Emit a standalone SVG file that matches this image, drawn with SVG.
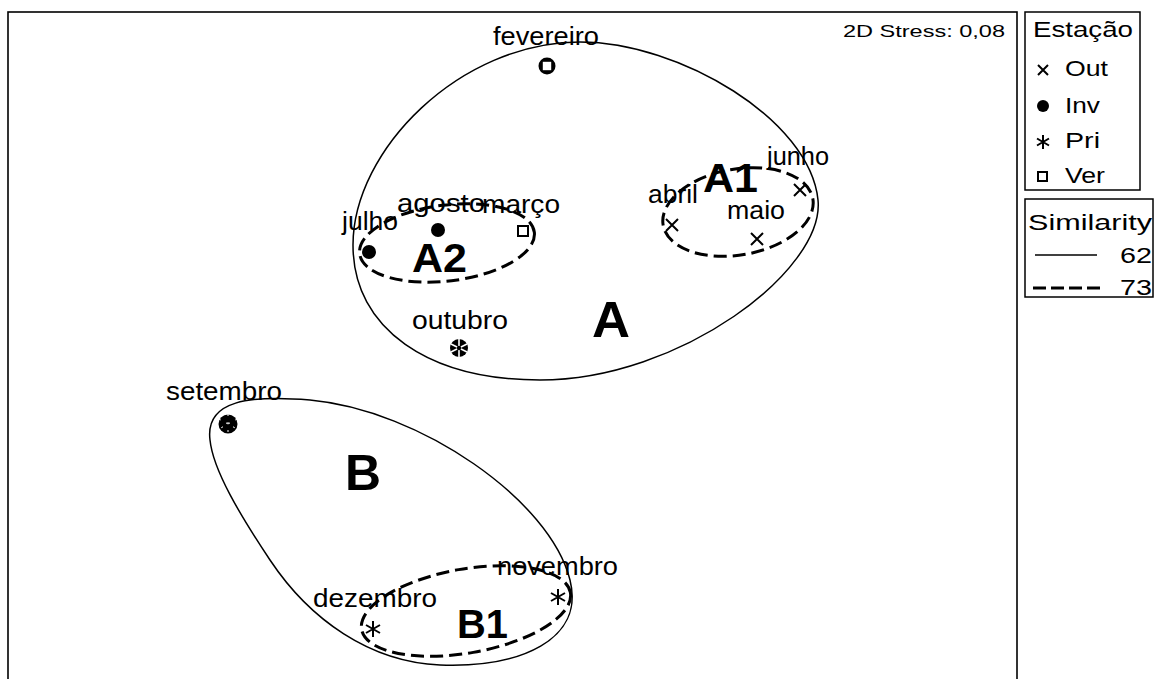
<svg xmlns="http://www.w3.org/2000/svg" width="1156" height="679" viewBox="0 0 1156 679">
<style>
text{font-family:"Liberation Sans",Arial,sans-serif;fill:#000}
.lb{font-size:25px}
.big{font-size:41px;font-weight:bold}
.lg{font-size:22px}
.solid{fill:none;stroke:#000;stroke-width:1.5}
.dash{fill:none;stroke:#000;stroke-width:3;stroke-dasharray:13 6}
.x{stroke:#000;stroke-width:2;fill:none}
.sq{fill:#fff;stroke:#000;stroke-width:2}
</style>
<defs>
<g id="mx"><path class="x" d="M-6,-6L6,6M6,-6L-6,6"/></g>
<g id="ma"><path class="x" d="M0,-8V8M-7,-4L7,4M7,-4L-7,4"/></g>
</defs>
<rect x="0" y="0" width="1156" height="679" fill="#fff"/>
<rect x="8" y="12" width="1009" height="700" fill="none" stroke="#000" stroke-width="1.6"/>

<g id="connectors">
<path id="clusterA" class="solid" d="M580,42 C680,42 810,120 818,200 C825,270 680,380 540,380 C430,380 353,330 353,245 C353,150 460,42 580,42 Z"/>
<path id="clusterB" class="solid" d="M210,440 C205,400 250,395 310,400 C420,410 550,500 570,580 C585,640 520,668 440,665 C370,662 310,620 270,560 C240,515 213,470 210,440 Z"/>
<ellipse id="clusterA2" class="dash" cx="447" cy="243" rx="88" ry="38" transform="rotate(-7 447 243)"/>
<ellipse id="clusterA1" class="dash" cx="738" cy="212" rx="76" ry="43" transform="rotate(-10 738 212)"/>
<ellipse id="clusterB1" class="dash" cx="466" cy="611" rx="106" ry="42" transform="rotate(-10 466 611)"/>
</g>

<g id="fevereiro">
<circle cx="547" cy="66" r="8.5" fill="#000"/>
<rect x="542" y="61" width="10" height="10" fill="#fff" stroke="#000" stroke-width="1.6"/>
<text class="lb" x="493" y="45" textLength="106" lengthAdjust="spacingAndGlyphs">fevereiro</text>
</g>
<g id="julho">
<circle cx="369" cy="252" r="7"/>
<text class="lb" x="342" y="230" textLength="56" lengthAdjust="spacingAndGlyphs">julho</text>
</g>
<g id="agosto">
<circle cx="438" cy="230" r="7"/>
<text class="lb" x="397" y="212" textLength="88" lengthAdjust="spacingAndGlyphs">agosto</text>
</g>
<g id="marco">
<rect class="sq" x="518" y="226" width="10" height="10"/>
<text class="lb" x="482" y="213" textLength="78" lengthAdjust="spacingAndGlyphs">março</text>
</g>
<g id="abril">
<use href="#mx" x="672" y="225"/>
<text class="lb" x="648" y="203" textLength="50" lengthAdjust="spacingAndGlyphs">abril</text>
</g>
<g id="junho">
<use href="#mx" x="800" y="190"/>
<text class="lb" x="767" y="165" textLength="62" lengthAdjust="spacingAndGlyphs">junho</text>
</g>
<g id="maio">
<use href="#mx" x="757" y="239"/>
<text class="lb" x="727" y="219" textLength="58" lengthAdjust="spacingAndGlyphs">maio</text>
</g>
<g id="outubro">
<circle cx="459" cy="348" r="9"/>
<path d="M459,339V357M451,344L467,352M467,344L451,352" stroke="#fff" stroke-width="1.6"/>
<circle cx="459" cy="348" r="2.2"/>
<text class="lb" x="412" y="329" textLength="96" lengthAdjust="spacingAndGlyphs">outubro</text>
</g>
<g id="setembro">
<circle cx="228" cy="424" r="9.5"/>
<path d="M228,414V434M219,419L237,429M237,419L219,429" stroke="#fff" stroke-width="1" stroke-dasharray="2 6"/>
<text class="lb" x="166" y="400" textLength="116" lengthAdjust="spacingAndGlyphs">setembro</text>
</g>
<g id="novembro">
<use href="#ma" x="558" y="597"/>
<text class="lb" x="497" y="575" textLength="121" lengthAdjust="spacingAndGlyphs">novembro</text>
</g>
<g id="dezembro">
<use href="#ma" x="373" y="629"/>
<text class="lb" x="313" y="607" textLength="124" lengthAdjust="spacingAndGlyphs">dezembro</text>
</g>

<g id="groupLabels">
<text class="big" x="703" y="192" font-size="38" textLength="55" lengthAdjust="spacingAndGlyphs">A1</text>
<text class="big" x="412" y="272" textLength="55" lengthAdjust="spacingAndGlyphs">A2</text>
<text class="big" x="457" y="638" textLength="51" lengthAdjust="spacingAndGlyphs">B1</text>
<text class="big" x="592" y="337" style="font-size:50px" textLength="38" lengthAdjust="spacingAndGlyphs">A</text>
<text class="big" x="345" y="490" style="font-size:50px" textLength="36" lengthAdjust="spacingAndGlyphs">B</text>
</g>

<text x="843" y="37" font-size="17" textLength="162" lengthAdjust="spacingAndGlyphs">2D Stress: 0,08</text>

<g id="legendSeason">
<rect x="1025" y="12" width="115" height="178" fill="none" stroke="#000" stroke-width="1.5"/>
<text class="lg" x="1033" y="37" textLength="100" lengthAdjust="spacingAndGlyphs">Estação</text>
<path class="x" d="M1038,65L1048,75M1048,65L1038,75"/>
<text class="lg" x="1065" y="76" textLength="43" lengthAdjust="spacingAndGlyphs">Out</text>
<circle cx="1043" cy="106" r="6"/>
<text class="lg" x="1065" y="113" textLength="35" lengthAdjust="spacingAndGlyphs">Inv</text>
<path class="x" d="M1043,135V149M1037,138.5L1049,145.5M1049,138.5L1037,145.5"/>
<text class="lg" x="1065" y="148" textLength="35" lengthAdjust="spacingAndGlyphs">Pri</text>
<rect class="sq" x="1038" y="172" width="9" height="9"/>
<text class="lg" x="1065" y="183" textLength="40" lengthAdjust="spacingAndGlyphs">Ver</text>
</g>
<g id="legendSimilarity">
<rect x="1025" y="199" width="128" height="98" fill="none" stroke="#000" stroke-width="1.5"/>
<text class="lg" x="1028" y="230" textLength="124" lengthAdjust="spacingAndGlyphs">Similarity</text>
<line x1="1035" y1="255" x2="1097" y2="255" stroke="#000" stroke-width="1.5"/>
<text class="lg" x="1120" y="263" textLength="32" lengthAdjust="spacingAndGlyphs">62</text>
<line x1="1033" y1="288" x2="1100" y2="288" stroke="#000" stroke-width="3" stroke-dasharray="13 5"/>
<text class="lg" x="1120" y="295" textLength="32" lengthAdjust="spacingAndGlyphs">73</text>
</g>
</svg>
